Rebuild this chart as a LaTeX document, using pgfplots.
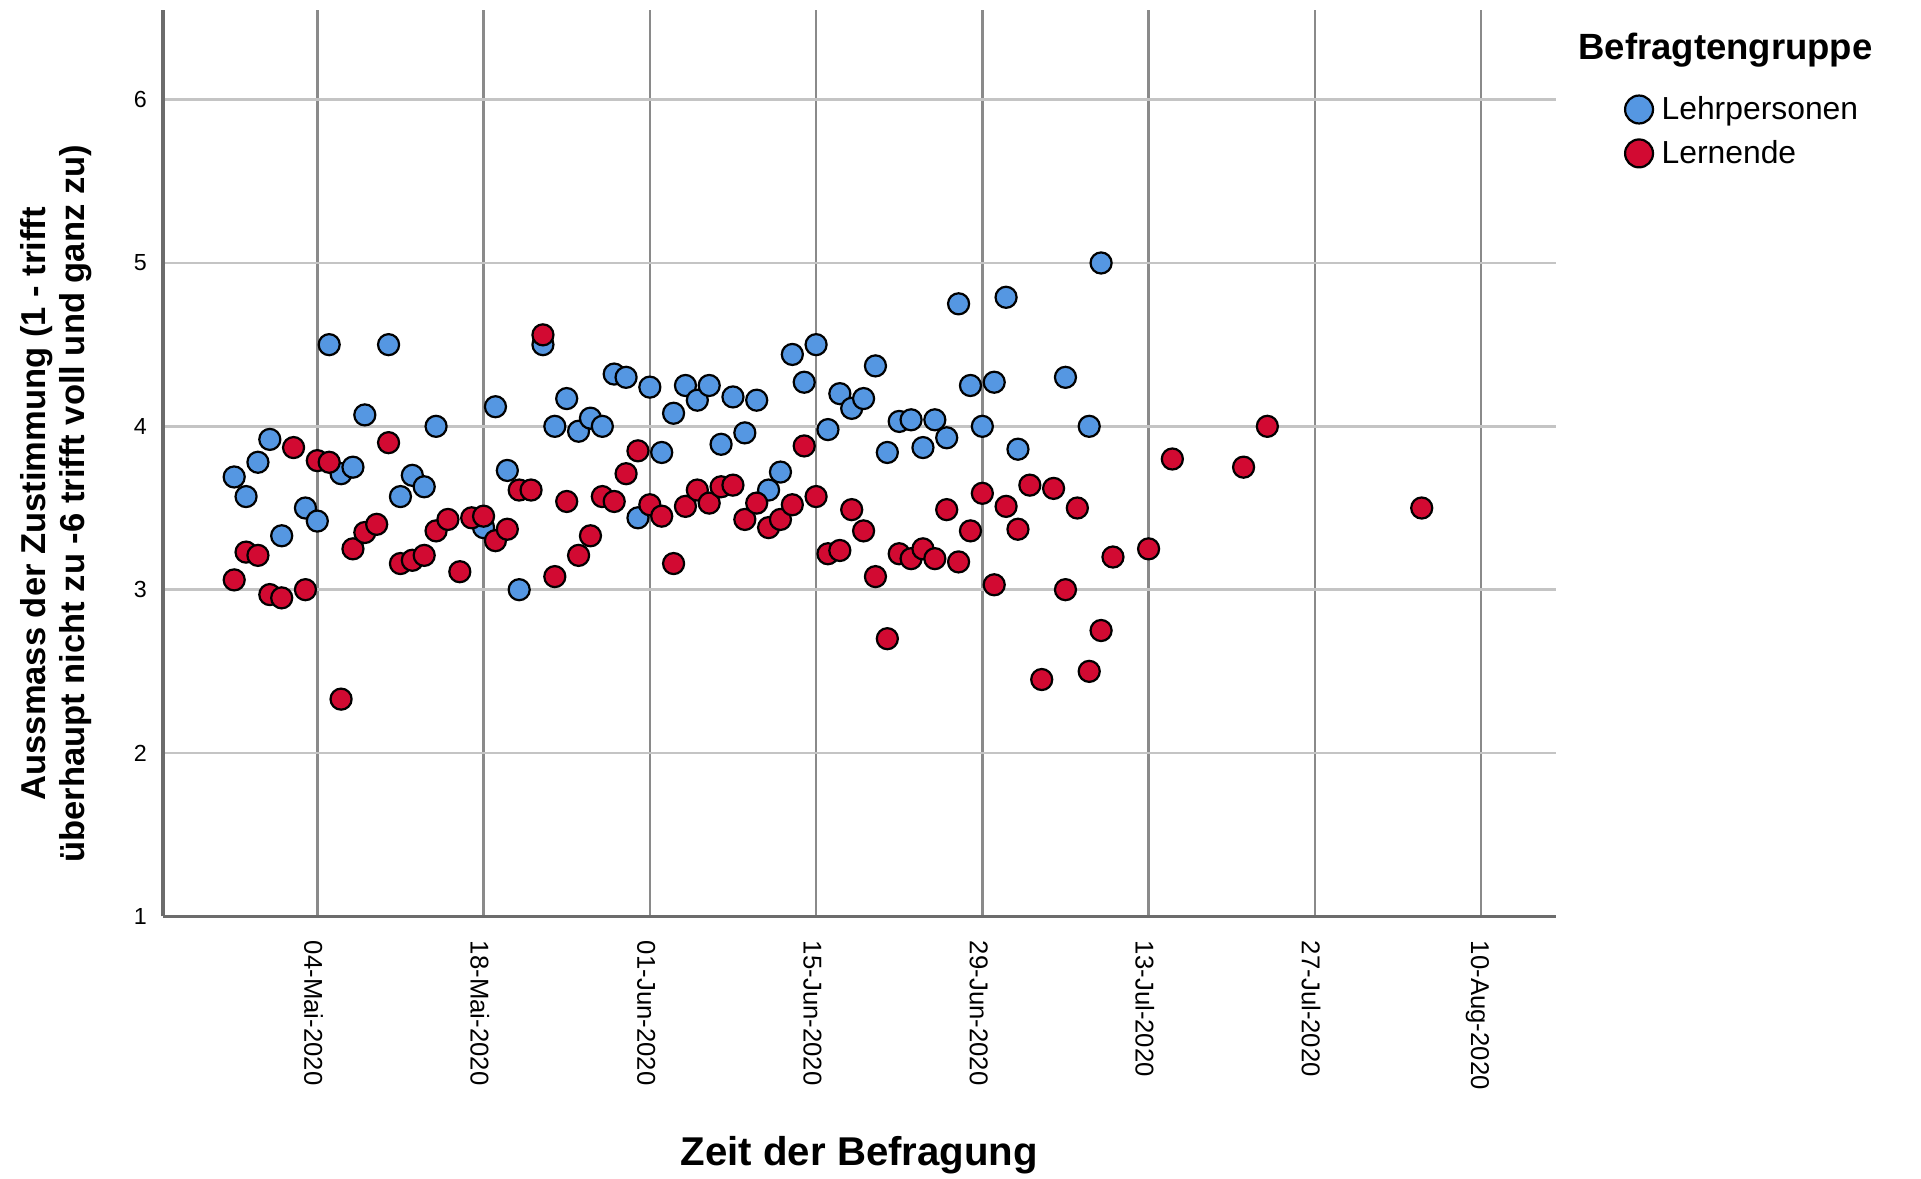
\documentclass[border=0pt]{standalone}
\usepackage{pgfplots}
\pgfplotsset{compat=1.18}
\usepackage{fontspec}
\setmainfont{Liberation Sans}
\definecolor{lblue}{HTML}{5597E2}
\definecolor{lred}{HTML}{D20A32}
\definecolor{vgrid}{HTML}{8A8A8A}
\definecolor{hgrid}{HTML}{C4C4C4}
\pgfplotsset{legend image code/.code={\draw[mark repeat=2,mark phase=2,#1,mark size=5.7pt] plot coordinates {(0pt,0pt)(6pt,0pt)(12pt,0pt)};}}
\begin{document}
\begin{tikzpicture}
\useasboundingbox (-66.5pt,-107pt) rectangle (717.5pt,374pt);
\begin{axis}[
  scale only axis,
  width=568.5pt, height=370pt,
  xmin=-13, xmax=104.3, ymin=1, ymax=6.55,
  clip=false,
  axis x line*=bottom, axis y line*=left,
  axis line style={-, draw=gray!85!black, line width=1.3pt},
  xtick={0,14,28,42,56,70,84,98},
  xticklabels={04-Mai-2020,18-Mai-2020,01-Jun-2020,15-Jun-2020,29-Jun-2020,13-Jul-2020,27-Jul-2020,10-Aug-2020},
  ytick={1,2,3,4,5,6},
  major tick length=0pt,
  xmajorgrids, ymajorgrids,
  x grid style={draw=vgrid, line width=1pt},
  y grid style={draw=hgrid, line width=1pt},
  /pgf/number format/assume math mode=true,
  xticklabel style={rotate=-90, anchor=west, font=\fontsize{10.5}{12}\selectfont, xshift=6.5pt, yshift=-1.5pt},
  yticklabel style={font=\fontsize{9.5}{11}\selectfont, xshift=-3pt},
  xlabel={\bfseries Zeit der Befragung},
  xlabel style={at={(axis description cs:0.5,-0.263)}, anchor=center, font=\fontsize{16.4}{19}\selectfont},
  ylabel={Aussmass der Zustimmung (1 - trifft\\überhaupt nicht zu -6 trifft voll und ganz zu)},
  ylabel style={at={(axis description cs:-0.0765,0.455)}, anchor=center, align=center, font=\bfseries\fontsize{14.1}{16}\selectfont},
  legend style={at={(axis description cs:1.0493,0.908)}, anchor=north west, draw=none, fill=none, inner sep=0pt,
    font=\fontsize{13}{15}\selectfont, row sep=5pt,
    nodes={inner sep=1pt},
    /tikz/every odd column/.append style={column sep=2.5pt}},
  legend cell align=left,
]
\addplot[only marks, mark=*, mark size=4.3pt, mark options={fill=lblue, draw=black, line width=0.9pt}]
coordinates {
(-7,3.69)(-6,3.57)(-5,3.78)(-4,3.92)(-3,3.33)(-1,3.50)(0,3.42)(1,4.50)(2,3.71)(3,3.75)
(4,4.07)(6,4.50)(7,3.57)(8,3.70)(9,3.63)(10,4.00)(14,3.38)(15,4.12)(16,3.73)(17,3.00)
(19,4.50)(20,4.00)(21,4.17)(22,3.97)(23,4.05)(24,4.00)(25,4.32)(26,4.30)(27,3.44)(28,4.24)
(29,3.84)(30,4.08)(31,4.25)(32,4.16)(33,4.25)(34,3.89)(35,4.18)(36,3.96)(37,4.16)(38,3.61)
(39,3.72)(40,4.44)(41,4.27)(42,4.50)(43,3.98)(44,4.20)(45,4.11)(46,4.17)(47,4.37)(48,3.84)
(49,4.03)(50,4.04)(51,3.87)(52,4.04)(53,3.93)(54,4.75)(55,4.25)(56,4.00)(57,4.27)(58,4.79)
(59,3.86)(63,4.30)(65,4.00)(66,5.00)
};
\addlegendentry{Lehrpersonen}
\addplot[only marks, mark=*, mark size=4.3pt, mark options={fill=lred, draw=black, line width=0.9pt}]
coordinates {
(-7,3.06)(-6,3.23)(-5,3.21)(-4,2.97)(-3,2.95)(-2,3.87)(-1,3.00)(0,3.79)(1,3.78)(2,2.33)
(3,3.25)(4,3.35)(5,3.40)(6,3.90)(7,3.16)(8,3.18)(9,3.21)(10,3.36)(11,3.43)(12,3.11)
(13,3.44)(14,3.45)(15,3.30)(16,3.37)(17,3.61)(18,3.61)(19,4.56)(20,3.08)(21,3.54)(22,3.21)
(23,3.33)(24,3.57)(25,3.54)(26,3.71)(27,3.85)(28,3.52)(29,3.45)(30,3.16)(31,3.51)(32,3.61)
(33,3.53)(34,3.63)(35,3.64)(36,3.43)(37,3.53)(38,3.38)(39,3.43)(40,3.52)(41,3.88)(42,3.57)
(43,3.22)(44,3.24)(45,3.49)(46,3.36)(47,3.08)(48,2.70)(49,3.22)(50,3.19)(51,3.25)(52,3.19)
(53,3.49)(54,3.17)(55,3.36)(56,3.59)(57,3.03)(58,3.51)(59,3.37)(60,3.64)(61,2.45)(62,3.62)
(63,3.00)(64,3.50)(65,2.50)(66,2.75)(67,3.20)(70,3.25)(72,3.80)(78,3.75)(80,4.00)(93,3.50)
};
\addlegendentry{Lernende}
\node[anchor=west, font=\bfseries\fontsize{14.9}{17}\selectfont, inner sep=0pt] at (axis description cs:1.0158,0.955) {Befragtengruppe};
\end{axis}
\end{tikzpicture}
\end{document}
